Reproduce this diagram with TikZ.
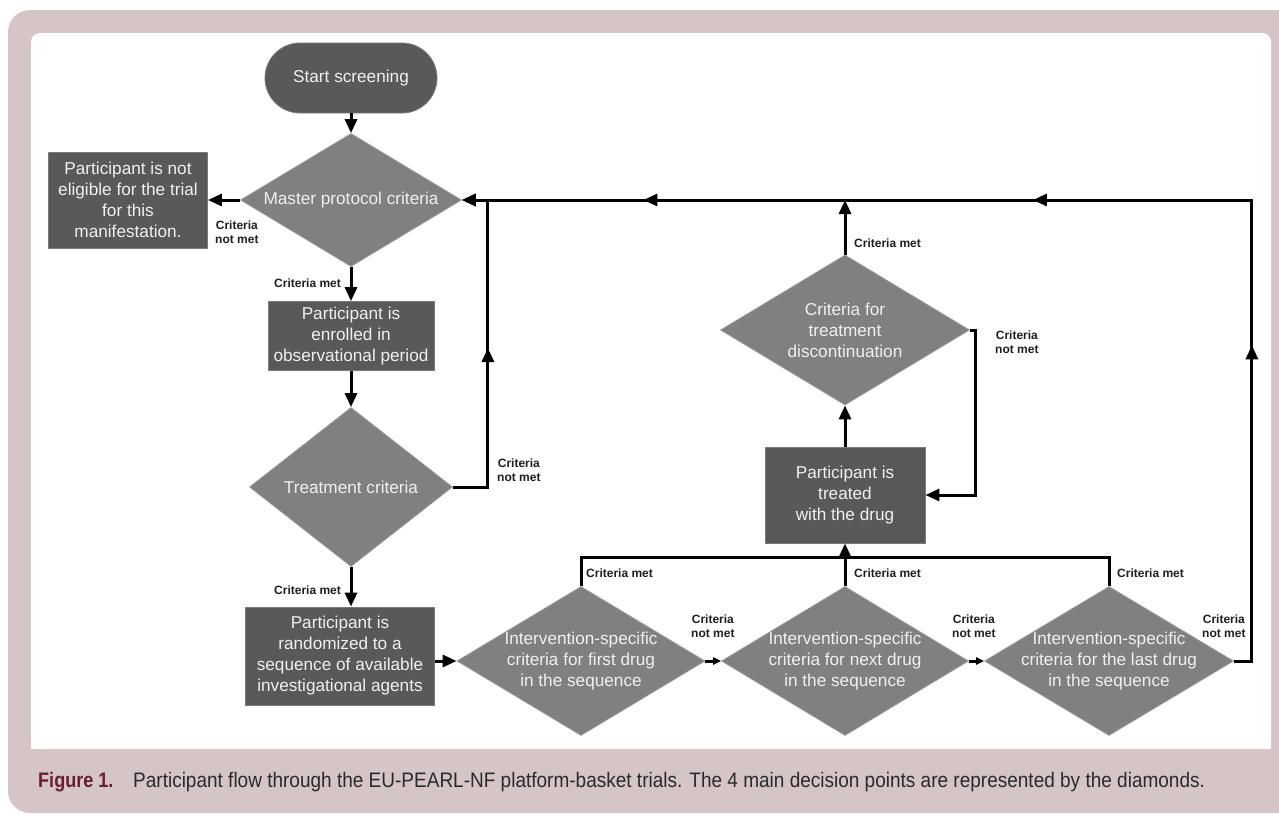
\documentclass[tikz,border=0pt]{standalone}
\usepackage{fontspec}
\setmainfont{Liberation Sans}
\newfontfamily\capfont[FakeStretch=0.905]{Liberation Sans}
\newfontfamily\capfontb[FakeStretch=0.86]{Liberation Sans}
\usetikzlibrary{arrows.meta}
\usetikzlibrary{decorations.markings}
\usetikzlibrary{shapes.geometric}
\definecolor{framepink}{HTML}{D5C5C6}
\definecolor{boxgray}{HTML}{595959}
\definecolor{boxedge}{HTML}{7A7A7A}
\definecolor{diagray}{HTML}{808080}
\definecolor{diaedge}{HTML}{9A9A9A}
\definecolor{capred}{HTML}{6B1D33}
\definecolor{captext}{HTML}{2A2A2A}
\tikzset{bigtip/.tip = {Triangle[length=14pt, width=12pt]}}
\tikzset{smalltip/.tip = {Triangle[length=8pt, width=7pt]}}
\tikzset{->-/.style = {postaction={decorate,
                       decoration={markings,
                                   mark=at position #1 with {\arrow{bigtip}}}}}}
\tikzset{link/.style = {line width=3pt}}
\tikzset{flow/.style = {link, -bigtip}}
\tikzset{nodefont/.style = {font=\fontsize{17.2}{21}\selectfont, text=white!94!black}}
\tikzset{box/.style 2 args = {nodefont, fill=boxgray, draw=boxedge, line width=0.8pt,
                              minimum width=#1pt, minimum height=#2pt, inner sep=0, align=center}}
\tikzset{terminal/.style = {box={172}{70}, rounded corners=35pt}}
\tikzset{dtext/.style = {nodefont, align=center, inner sep=0}}
\tikzset{decision/.style 2 args = {diamond, fill=diagray, draw=diaedge, line width=0.8pt,
                                   minimum width=#1pt, minimum height=#2pt, inner sep=0}}
\tikzset{lbl/.style = {font=\fontsize{12}{14.5}\selectfont\bfseries, text=black!88,
                       inner sep=0, align=center, anchor=west}}

\begin{document}
\begin{tikzpicture}[x=1pt, y=-1pt]
  \useasboundingbox (0,0) rectangle (1279,814);
  % frame
  \fill[framepink, rounded corners=22pt] (8,10) rectangle (1310,813);
  \fill[white, rounded corners=9pt] (31,33) rectangle (1271,749);
  \fill[white] (31,720) rectangle (1271,749);

  % left column
  \node[terminal] (start) at (351,78) {Start screening};
  \node[decision={221}{133}, label={[dtext]center:Master protocol criteria}] (master) at (351,200) {};
  \node[box={159}{96}] (noelig) at (128,200) {Participant is not\\eligible for the trial\\for this\\manifestation.};
  \node[box={166}{69}] (enrol) at (351,336) {Participant is\\enrolled in\\observational period};
  \node[decision={203}{159}, label={[dtext]center:Treatment criteria}] (treat) at (351,487) {};
  \node[box={189}{98}] (random) at (340,656) {Participant is\\randomized to a\\sequence of available\\investigational agents};

  % drug sequence
  \node[decision={248}{149}, label={[dtext]center:{Intervention-specific\\criteria for first drug\\in the sequence}}] (first) at (581,661) {};
  \node[decision={247}{149}, label={[dtext]center:{Intervention-specific\\criteria for next drug\\in the sequence}}] (next) at (845,661) {};
  \node[decision={249}{149}, label={[dtext]center:{Intervention-specific\\criteria for the last drug\\in the sequence}}] (last) at (1109,661) {};
  \node[box={160}{96}] (treated) at (845,495) {Participant is\\treated\\with the drug};
  \node[decision={249}{150}, label={[dtext]center:{Criteria for\\treatment\\discontinuation}}] (disc) at (845,330) {};
  \coordinate (bus) at (845,557);

  % connectors
  \draw[flow] (start.south) -- (master.north);
  \draw[flow] (master.west) -- (noelig.east);
  \draw[flow] (master.south) -- (enrol.north);
  \draw[flow] (enrol.south) -- (treat.north);
  \draw[flow] (treat.south) -- (treat.south |- random.north);
  \draw[flow] (random.east |- first.west) -- (first.west);
  \draw[link, -smalltip] (first.east) -- (next.west);
  \draw[link, -smalltip] (next.east) -- (last.west);
  \draw[link] (first.north) |- (bus) -| (last.north);
  \draw[flow] (next.north) -- (treated.south);
  \draw[flow] (treated.north) -- (disc.south);
  \draw[flow] (disc.north) -- (disc.north |- master.east);
  \draw[flow] (disc.east) -- ++(6,0) |- (treated.east);
  \draw[flow, ->-=0.5] (treat.east) -- ++(35,0) |- (master.east);
  \draw[flow, ->-=0.263, ->-=0.55, ->-=0.857] (last.east) -- ++(18,0) |- (master.east);

  % labels
  \node[lbl] (mnot) at (215,232) {Criteria\\not met};
  \node[lbl] (mmet) at (274,283) {Criteria met};
  \node[lbl] (tnot) at (497,470) {Criteria\\not met};
  \node[lbl] (tmet) at (274,590) {Criteria met};
  \node[lbl] (fmet) at (586,573) {Criteria met};
  \node[lbl] (fnot) at (691,626) {Criteria\\not met};
  \node[lbl] (nmet) at (854,573) {Criteria met};
  \node[lbl] (nnot) at (952,626) {Criteria\\not met};
  \node[lbl] (lmet) at (1117,573) {Criteria met};
  \node[lbl] (lnot) at (1202,626) {Criteria\\not met};
  \node[lbl] (dmet) at (854,243) {Criteria met};
  \node[lbl] (dnot) at (995,342) {Criteria\\not met};

  % caption
  \node[anchor=base west, inner sep=0, text=capred,
        font=\capfontb\bfseries\fontsize{21}{22}\selectfont] (fig) at (38,787) {Figure 1.};
  \node[anchor=base west, inner sep=0, text=captext,
        font=\capfont\fontsize{21}{22}\selectfont] (cap) at (133,787)
        {Participant flow through the EU-PEARL-NF platform-basket trials. The 4 main decision points are represented by the diamonds.};
\end{tikzpicture}
\end{document}
